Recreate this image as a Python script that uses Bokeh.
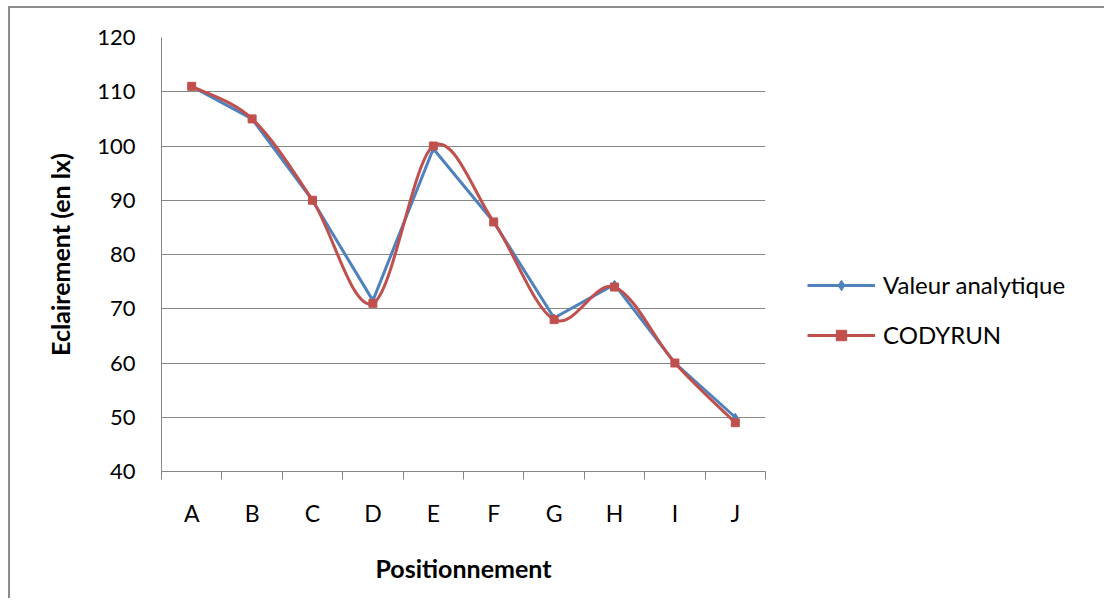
from bokeh.plotting import figure
from bokeh.models import FixedTicker, Legend, LegendItem, Range1d
from bokeh.embed import file_html
from bokeh.resources import INLINE

categories = ["A", "B", "C", "D", "E", "F", "G", "H", "I", "J"]
analytique = [111, 105, 90, 71.5, 99.5, 86, 68.3, 74.5, 60, 50]
codyrun = [111, 105, 90, 71, 100, 86, 68, 74, 60, 49]
y_ticks = [40, 50, 60, 70, 80, 90, 100, 110, 120]

BLUE = "#4F81BD"
RED = "#C0504D"
GRAY = "#868686"
FONT = "Lato"

xs = [i + 0.5 for i in range(len(categories))]

p = figure(frame_width=604, frame_height=434, output_backend="svg", toolbar_location=None,
           x_range=Range1d(0, len(categories)), y_range=Range1d(40, 120),
           min_border_left=151, min_border_top=29, min_border_right=10,
           min_border_bottom=127)
p.styles = {"border-left": "2px solid #8c8c8c", "border-top": "2px solid #8c8c8c",
            "margin-left": "8px", "margin-top": "6px"}
p.outline_line_color = None

# axes
p.xaxis.ticker = FixedTicker(ticks=xs, minor_ticks=list(range(len(categories) + 1)))
p.xaxis.major_label_overrides = {x: c for x, c in zip(xs, categories)}
p.xaxis.major_tick_out = 0
p.xaxis.major_tick_in = 0
p.xaxis.minor_tick_line_color = GRAY
p.xaxis.minor_tick_out = 8
p.xaxis.minor_tick_in = 0
p.xaxis.major_label_standoff = 19
p.xaxis.axis_label = "Positionnement"
p.xaxis.axis_label_standoff = 23

p.yaxis.ticker = FixedTicker(ticks=y_ticks)
p.yaxis.major_tick_out = 9
p.yaxis.major_tick_in = 0
p.yaxis.minor_tick_line_color = None
p.yaxis.major_label_standoff = 17
p.yaxis.axis_label = "Eclairement (en lx)"
p.yaxis.axis_label_standoff = 19

for ax in (p.xaxis, p.yaxis):
    ax.axis_line_color = GRAY
    ax.major_tick_line_color = GRAY if ax is p.yaxis else None
    ax.major_label_text_font = FONT
    ax.major_label_text_color = "black"
    ax.axis_label_text_font = FONT
    ax.axis_label_text_font_size = "25px"
    ax.axis_label_text_font_style = "bold"
    ax.axis_label_text_color = "black"
p.xaxis.major_label_text_font_size = "23px"
p.yaxis.major_label_text_font_size = "22px"

p.xgrid.grid_line_color = None
p.ygrid.ticker = FixedTicker(ticks=y_ticks)
p.ygrid.grid_line_color = GRAY
p.ygrid.grid_line_width = 1

# blue series: straight lines with diamond markers
bl = p.line(xs, analytique, line_color=BLUE, line_width=3)
bm = p.scatter(xs, analytique, marker="diamond", size=8, fill_color=BLUE, line_color=BLUE)

# red series: smoothed (cardinal bezier) with square markers
n = len(codyrun)
px = xs
py = codyrun
x0, y0, x1, y1, cx0, cy0, cx1, cy1 = [], [], [], [], [], [], [], []
for i in range(n - 1):
    im1 = max(i - 1, 0)
    ip2 = min(i + 2, n - 1)
    x0.append(px[i]); y0.append(py[i])
    x1.append(px[i + 1]); y1.append(py[i + 1])
    cx0.append(px[i] + (px[i + 1] - px[im1]) / 6)
    cy0.append(py[i] + (py[i + 1] - py[im1]) / 6)
    cx1.append(px[i + 1] - (px[ip2] - px[i]) / 6)
    cy1.append(py[i + 1] - (py[ip2] - py[i]) / 6)
rl = p.bezier(x0=x0, y0=y0, x1=x1, y1=y1, cx0=cx0, cy0=cy0, cx1=cx1, cy1=cy1,
              line_color=RED, line_width=3)
rm = p.scatter(xs, codyrun, marker="square", size=8, fill_color=RED, line_color=RED)

legend = Legend(items=[LegendItem(label="Valeur analytique", renderers=[bl, bm]),
                       LegendItem(label="CODYRUN", renderers=[rl, rm])],
                location=(42, 122))
legend.padding = 0
legend.margin = 0
legend.border_line_color = None
legend.background_fill_alpha = 0
legend.glyph_width = 68
legend.glyph_height = 26
legend.label_height = 26
legend.spacing = 21
legend.label_standoff = 8
legend.label_text_font = FONT
legend.label_text_font_size = "24px"
legend.label_text_color = "black"
p.add_layout(legend, "right")

open("out.html", "w").write(file_html(p, INLINE))
